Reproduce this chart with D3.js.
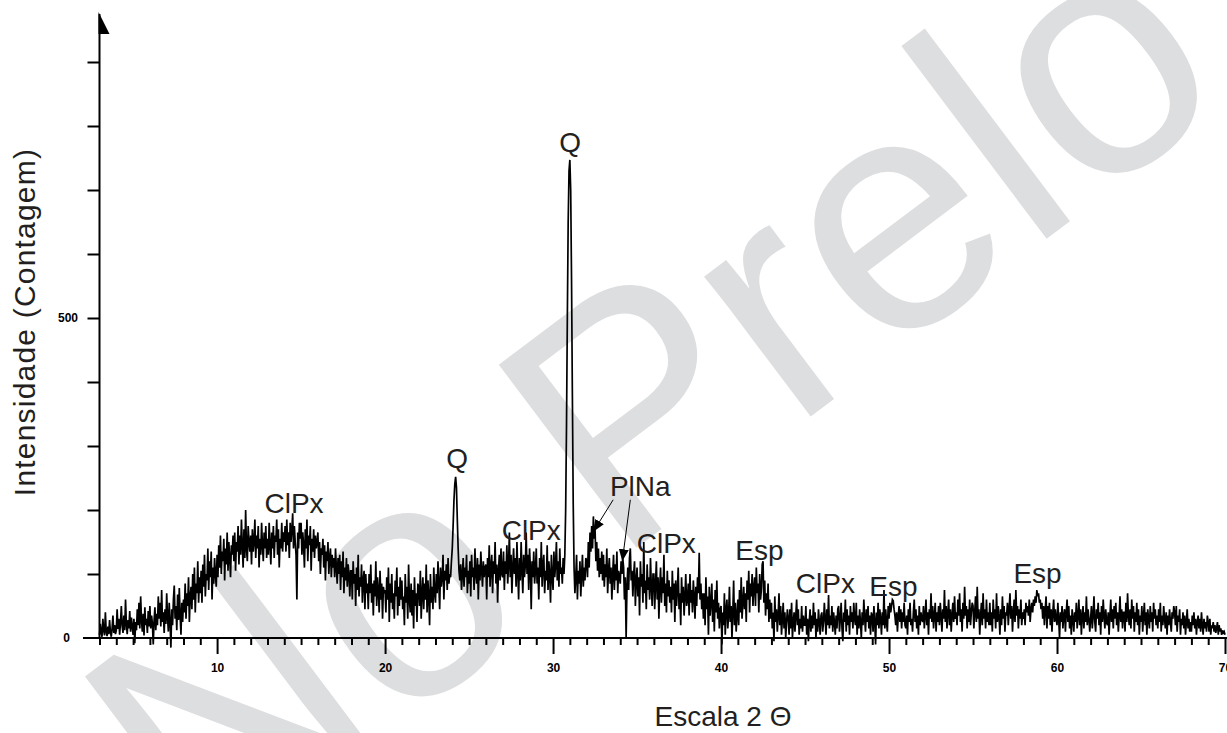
<!DOCTYPE html>
<html>
<head>
<meta charset="utf-8">
<script src="https://cdn.jsdelivr.net/npm/d3@7"></script>
<style>
  body { margin: 0; background: #fff; }
  svg { display: block; font-family: "Liberation Sans", Arial, Helvetica, sans-serif; }
</style>
</head>
<body>
<script>
// difratograma: uma linha por grau (2 theta), 20 leituras por grau, de 3 a 70
const firstDegree = 3;
const countRows = [
  [5, 22, 8, 2, 30, 12, 4, 40, 10, 3, 18, 6, 28, 9, 2, 15, 35, 8, 20, 6],
  [12, 45, 14, 30, 5, 25, 50, 18, 8, 35, 12, 60, 22, 6, 28, 15, 42, 10, 32, 18],
  [5, 30, -8, 25, 12, 45, 20, 55, 15, 65, 28, 10, 38, 4, 48, 20, 30, 8, 42, 18],
  [50, 15, 35, 22, -10, 28, 48, 12, 38, 20, 65, 30, 55, 18, 75, 25, 40, 8, 45, 22],
  [70, 32, 10, 55, 25, -15, 45, 20, 60, 82, 30, 50, 12, 68, 28, 78, 35, 5, 55, 25],
  [60, 40, 85, 30, 70, 50, 95, 25, 65, 80, 45, 100, 60, 110, 40, 85, 70, 120, 55, 95],
  [70, 105, 55, 115, 80, 130, 65, 100, 90, 140, 75, 120, 95, 135, 60, 110, 85, 125, 100, 80],
  [130, 95, 145, 110, 160, 100, 135, 120, 155, 90, 140, 115, 165, 105, 150, 125, 95, 145, 130, 160],
  [120, 165, 105, 150, 135, 175, 115, 160, 130, 185, 145, 110, 170, 125, 200, 140, 120, 175, 150, 135],
  [160, 115, 170, 135, 150, 185, 125, 160, 140, 175, 110, 155, 130, 180, 145, 120, 165, 140, 175, 125],
  [155, 130, 180, 145, 115, 165, 140, 175, 125, 160, 150, 185, 130, 170, 110, 155, 140, 180, 135, 165],
  [150, 175, 135, 185, 145, 165, 125, 180, 150, 170, 195, 140, 175, 150, 130, 60, 165, 140, 180, 155],
  [180, 130, 165, 145, 110, 170, 140, 185, 120, 160, 145, 175, 105, 155, 135, 170, 125, 160, 140, 150],
  [165, 120, 150, 100, 140, 130, 155, 110, 145, 90, 135, 120, 150, 100, 125, 140, 95, 130, 110, 125],
  [95, 140, 110, 85, 125, 100, 130, 75, 120, 95, 135, 70, 110, 90, 125, 80, 115, 100, 65, 105],
  [105, 60, 120, 85, 100, 50, 110, 75, 130, 65, 95, 80, 115, 55, 90, 105, 45, 100, 70, 85],
  [45, 100, 70, 115, 55, 85, 35, 90, 65, 120, 50, 95, 75, 40, 105, 60, 85, 30, 80, 70],
  [75, 40, 95, 60, 110, 25, 85, 55, 100, 45, 70, 30, 90, 65, 110, 35, 80, 50, 95, 60],
  [90, 45, 65, 20, 100, 55, 80, 30, 115, 60, 40, 85, 35, 75, 15, 95, 50, 70, 25, 85],
  [80, 50, 105, 30, 70, 95, 45, 85, 60, 115, 40, 90, 65, 20, 100, 55, 80, 45, 110, 70],
  [55, 100, 70, 120, 85, 45, 110, 80, 95, 130, 60, 105, 90, 115, 75, 125, 85, 100, 95, 120],
  [140, 175, 215, 240, 252, 235, 185, 140, 105, 90, 115, 75, 100, 125, 80, 110, 95, 130, 70, 105],
  [85, 120, 65, 130, 95, 110, 75, 140, 100, 85, 125, 60, 115, 90, 135, 105, 80, 120, 95, 110],
  [115, 60, 125, 95, 145, 80, 110, 130, 70, 120, 100, 150, 85, 115, 55, 105, 130, 90, 140, 100],
  [95, 135, 75, 120, 100, 145, 85, 115, 165, 95, 130, 70, 110, 140, 100, 125, 80, 150, 105, 60],
  [125, 90, 150, 105, 70, 130, 95, 115, 165, 100, 130, 75, 140, 110, 45, 120, 95, 135, 85, 105],
  [140, 85, 110, 60, 125, 95, 150, 80, 115, 130, 70, 105, 90, 145, 75, 120, 100, 55, 130, 95],
  [75, 135, 95, 115, 150, 90, 120, 80, 140, 100, 110, 85, 125, 100, 130, 200, 330, 500, 650, 730],
  [747, 700, 560, 380, 210, 110, 70, 95, 130, 60, 105, 85, 120, 65, 100, 130, 80, 110, 90, 125],
  [120, 95, 150, 110, 165, 135, 175, 140, 190, 155, 170, 120, 150, 105, 140, 95, 125, 100, 135, 90],
  [130, 80, 115, 95, 140, 70, 105, 125, 85, 110, 60, 100, 130, 75, 115, 90, 135, 70, 105, 95],
  [85, 120, 100, 125, 110, 60, 95, 0, 80, 110, 75, 125, 140, 90, 105, 65, 100, 120, 50, 90],
  [110, 65, 95, 35, 120, 80, 100, 55, 150, 70, 90, 45, 115, 75, 95, 60, 125, 80, 50, 100],
  [100, 45, 85, 120, 60, 95, 30, 80, 110, 55, 95, 70, 130, 50, 85, 40, 105, 65, 90, 55],
  [80, 40, 105, 60, 85, 25, 90, 50, 75, 110, 45, 70, 20, 95, 55, 80, 35, 65, 100, 50],
  [60, 85, 35, 100, 55, 75, 40, 90, 65, 30, 80, 50, 95, 70, 133, 60, 85, 45, 70, 30],
  [70, 20, 95, 45, 65, 5, 80, 35, 55, 85, 25, 60, 10, 75, 40, 90, 30, 55, 15, 45],
  [50, -10, 40, 20, 70, 5, 45, 60, 15, 35, 80, 25, 50, 0, 40, 90, 20, 55, 10, 35],
  [60, 20, 75, 40, 95, 30, 55, 80, 45, 70, 25, 90, 60, 105, 40, 85, 65, 100, 50, 80],
  [95, 50, 110, 70, 85, 40, 100, 60, 75, 115, 120, 55, 90, 35, 70, 45, 85, 25, 60, 30],
  [55, 15, 40, -5, 65, 25, 45, 10, 35, 70, 20, 50, 5, 30, 55, 15, 40, 0, 25, 45],
  [30, 5, 45, 15, 55, 0, 25, 40, 10, 35, 60, 20, 45, 5, 30, 15, 50, 10, 35, 20],
  [20, 50, 5, 30, -5, 25, 45, 10, 35, 15, 55, 20, 40, 0, 30, 10, 45, 25, 5, 35],
  [40, 10, 25, 55, 30, 5, 45, 20, 67, 15, 35, 20, 50, 10, 40, 25, 5, 35, 15, 45],
  [50, 10, 30, 55, 15, -5, 40, 25, 60, 10, 45, 20, 35, 5, 50, 25, 40, 15, 55, 30],
  [20, 55, 5, 35, 15, 45, 25, 0, 40, 20, 60, 30, 10, 45, 25, 50, 15, 35, 5, 40],
  [35, 10, 50, 25, -10, 40, 20, 55, 15, 45, 30, 5, 40, 20, 75, 15, 45, 25, 10, 50],
  [30, 55, 40, 50, 60, 58, 45, 35, 20, 40, 10, 35, 50, 25, 45, 15, 40, 25, 55, 20],
  [15, 35, 5, 45, 25, 55, 20, 30, 10, 40, 60, 25, 45, 15, 35, 5, 50, 20, 40, 30],
  [25, 50, 15, 35, 60, 20, 40, 5, 45, 30, 70, 25, 50, 15, 35, 55, 10, 40, 25, 50],
  [20, 55, 35, 10, 45, 30, 75, 25, 50, 15, 40, 60, 20, 45, 10, 35, 55, 25, 65, 30],
  [40, 20, 60, 35, 70, 25, 45, 10, 55, 30, 80, 35, 50, 15, 45, 25, 60, 20, 40, 55],
  [50, 15, 40, 65, 25, 80, 30, 45, 5, 35, 55, 20, 70, 30, 45, 15, 60, 25, 40, 20],
  [55, 20, 40, 10, 60, 30, 45, 15, 70, 25, 50, 35, 5, 45, 20, 65, 30, 50, 10, 40],
  [35, 55, 20, 45, 70, 30, 50, 10, 40, 60, 25, 75, 35, 50, 15, 45, 30, 60, 20, 40],
  [30, 45, 20, 55, 40, 50, 35, 60, 25, 45, 55, 40, 60, 50, 65, 55, 75, 65, 70, 55],
  [60, 45, 55, 30, 50, 20, 45, 65, 15, 50, 30, 55, 20, 45, 10, 40, 60, 25, 45, 30],
  [20, 55, 30, 0, 40, 25, 50, 15, 35, 45, 10, 40, 60, 25, 50, 15, 35, 5, 45, 30],
  [10, 40, 25, 55, 15, 35, 60, 20, 45, 5, 35, 50, 15, 40, 25, 65, 20, 45, 30, 10],
  [30, 50, 15, 35, 65, 25, 10, 45, 30, 55, 20, 40, 5, 50, 25, 60, 35, 15, 45, 25],
  [20, 40, 5, 35, 60, 25, 45, 15, 50, 30, 55, 20, 40, 10, 35, 65, 25, 45, 15, 40],
  [40, 10, 55, 25, 70, 35, 20, 45, 15, 60, 30, 50, 10, 40, 25, 55, 20, 45, 5, 35],
  [25, 50, 10, 35, 55, 20, 40, 5, 45, 30, 15, 50, 25, 40, 10, 55, 30, 45, 20, 35],
  [15, 45, 25, 55, 10, 35, 20, 50, 30, 15, 40, 5, 35, 20, 45, 25, 10, 40, 30, 50],
  [40, 20, 50, 10, 35, 25, 45, 5, 30, 20, 40, 15, 35, 5, 25, 45, 15, 30, 10, 25],
  [10, 35, 20, 40, 15, 30, 5, 25, 35, 15, 30, 10, 40, 20, 5, 30, 15, 25, 10, 35],
  [25, 10, 30, 5, 20, 15, 25, 10, 20, 8, 15, 25, 5, 20, 10, 15, 5, 12, 8, 10],
  [5]
];

// fases identificadas
const phaseNames = ["ClPx", "Q", "ClPx", "Q", "PlNa", "ClPx", "Esp", "ClPx", "Esp", "Esp"];
const phaseTheta = [14.58, 24.29, 28.70, 31.02, 35.19, 36.74, 42.28, 46.21, 50.26, 58.84];
const phaseCount = [195, 266, 153, 759, 222, 133, 122, 70, 65, 86];

// setas do PlNa: [theta inicio, contagem inicio, theta ponta, contagem ponta]
const plnaArrows = [
  [33.58, 216, 32.39, 166],
  [34.60, 216, 34.12, 120]
];

const xTicks = d3.range(3, 71);
const xLabels = [10, 20, 30, 40, 50, 60, 70];
const yTicks = [100, 200, 300, 400, 500, 600, 700, 800, 900];
const yLabels = [0, 500];

const W = 1227, H = 733;

const svg = d3.select("body").append("svg")
    .attr("width", W)
    .attr("height", H);

const x = d3.scaleLinear().domain([3, 70]).range([99.5, 1225]);
const y = d3.scaleLinear().domain([0, 1000]).range([638, -2]);

// marca d'agua
svg.append("text")
    .attr("transform", "translate(201,876) rotate(-37)")
    .attr("font-size", 333)
    .attr("fill", "#dddee0")
    .text("No Prelo");

// eixo x
const xAxis = d3.axisBottom(x)
    .tickValues(xTicks)
    .tickSize(7)
    .tickFormat(d => xLabels.includes(d) ? d : "");

const gx = svg.append("g")
    .attr("transform", "translate(0," + y(0) + ")")
    .call(xAxis);
gx.select(".domain").remove();
gx.selectAll(".tick line")
    .attr("stroke", "#000")
    .attr("stroke-width", 2)
    .attr("y2", d => d % 10 === 0 ? 16 : 7);
gx.selectAll(".tick text")
    .attr("y", 25)
    .attr("dy", "0.71em")
    .attr("font-size", 12)
    .attr("font-weight", "bold")
    .attr("font-family", "Liberation Sans, Arial, sans-serif")
    .attr("fill", "#000");

svg.append("line")
    .attr("x1", 83).attr("x2", W)
    .attr("y1", y(0)).attr("y2", y(0))
    .attr("stroke", "#000")
    .attr("stroke-width", 2);

// eixo y
const yAxis = d3.axisLeft(y)
    .tickValues(yTicks)
    .tickSize(12)
    .tickFormat("");

const gy = svg.append("g")
    .attr("transform", "translate(" + x(3) + ",0)")
    .call(yAxis);
gy.select(".domain").remove();
gy.selectAll(".tick line")
    .attr("stroke", "#000")
    .attr("stroke-width", 2);

svg.append("line")
    .attr("x1", x(3)).attr("x2", x(3))
    .attr("y1", y(0)).attr("y2", 14)
    .attr("stroke", "#000")
    .attr("stroke-width", 2);

// meia seta no topo do eixo
svg.append("path")
    .attr("d", "M" + (x(3) - 1) + ",12 L" + (x(3) + 10) + ",34 L" + (x(3) - 1) + ",34 Z")
    .attr("fill", "#000");

svg.selectAll(".ylab")
    .data(yLabels)
    .enter().append("text")
    .attr("class", "ylab")
    .attr("x", d => d === 0 ? 70 : 78)
    .attr("y", d => y(d) + 4)
    .attr("text-anchor", "end")
    .attr("font-size", 12)
    .attr("font-weight", "bold")
    .text(d => d);

// curva
const pts = [];
countRows.forEach((row, r) => {
    row.forEach((c, j) => {
        pts.push([firstDegree + r + j / 20, c]);
    });
});

const line = d3.line()
    .x(d => x(d[0]))
    .y(d => y(d[1]));

svg.append("path")
    .datum(pts)
    .attr("d", line)
    .attr("fill", "none")
    .attr("stroke", "#000")
    .attr("stroke-width", 1.7)
    .attr("stroke-linejoin", "miter");

// rotulos das fases
svg.selectAll(".phase")
    .data(phaseNames)
    .enter().append("text")
    .attr("class", "phase")
    .attr("x", (d, i) => x(phaseTheta[i]))
    .attr("y", (d, i) => y(phaseCount[i]))
    .attr("text-anchor", "middle")
    .attr("font-size", 28)
    .attr("fill", "#231f20")
    .text(d => d);

// setas
svg.append("defs").append("marker")
    .attr("id", "arrow")
    .attr("viewBox", "0 0 12 10")
    .attr("refX", 12).attr("refY", 5)
    .attr("markerWidth", 12).attr("markerHeight", 10)
    .attr("markerUnits", "userSpaceOnUse")
    .attr("orient", "auto")
    .append("path")
    .attr("d", "M0,0 L12,5 L0,10 Z")
    .attr("fill", "#000");

svg.selectAll(".arr")
    .data(plnaArrows)
    .enter().append("line")
    .attr("class", "arr")
    .attr("x1", d => x(d[0])).attr("y1", d => y(d[1]))
    .attr("x2", d => x(d[2])).attr("y2", d => y(d[3]))
    .attr("stroke", "#000")
    .attr("stroke-width", 1)
    .attr("marker-end", "url(#arrow)");

// titulos dos eixos
svg.append("text")
    .attr("transform", "rotate(-90)")
    .attr("x", -322)
    .attr("y", 35)
    .attr("text-anchor", "middle")
    .attr("font-size", 30)
    .attr("letter-spacing", 1.2)
    .attr("fill", "#231f20")
    .text("Intensidade (Contagem)");

svg.append("text")
    .attr("x", 723)
    .attr("y", 726)
    .attr("text-anchor", "middle")
    .attr("font-size", 28)
    .attr("fill", "#231f20")
    .text("Escala 2 \u0398");
</script>
</body>
</html>
